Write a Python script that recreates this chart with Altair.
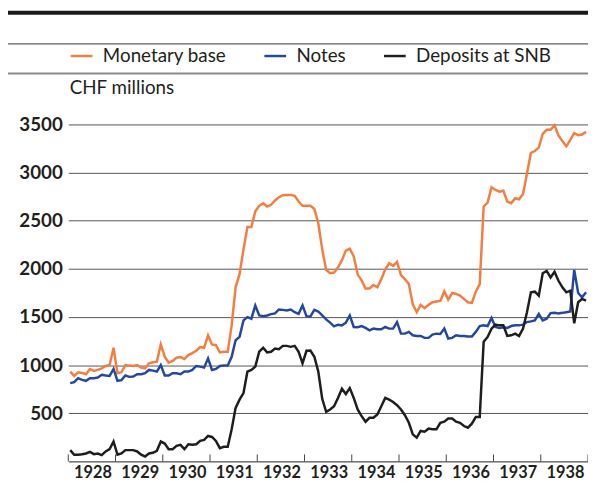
import altair as alt
import pandas as pd

series_names = ["Monetary base", "Notes", "Deposits at SNB"]
series_colors = ["#F47D40", "#2448A0", "#1E1E1E"]
years = list(range(1928, 1939))
tick_years = list(range(1928, 1940))
y_ticks = [500, 1000, 1500, 2000, 2500, 3000, 3500]

monetary_base = [
    933, 888, 926, 919, 905, 960, 940, 950, 967, 991, 1001, 1180,
    916, 926, 1001, 995, 991, 1001, 974, 967, 1019, 1029, 1036, 1214,
    1087, 1025, 1043, 1077, 1084, 1063, 1104, 1125, 1149, 1187, 1180, 1310,
    1214, 1207, 1132, 1139, 1139, 1413, 1808, 1945, 2202, 2435, 2435, 2597,
    2655, 2682, 2648, 2665, 2710, 2744, 2765, 2768, 2768, 2758, 2699, 2655,
    2655, 2655, 2621, 2476, 2200, 1990, 1955, 1962, 2013, 2090, 2190, 2209,
    2130, 1940, 1880, 1797, 1797, 1832, 1808, 1893, 1996, 2058, 2031, 2072,
    1935, 1893, 1842, 1630, 1550, 1626, 1592, 1626, 1653, 1660, 1667, 1766,
    1681, 1749, 1739, 1722, 1688, 1653, 1646, 1763, 1842, 2648, 2689, 2847,
    2819, 2802, 2812, 2699, 2682, 2734, 2723, 2778, 2991, 3204, 3224, 3259,
    3403, 3444, 3444, 3490, 3385, 3327, 3272, 3341, 3409, 3389, 3396, 3423,
]
notes = [
    813, 823, 864, 847, 837, 864, 864, 871, 899, 892, 888, 960,
    837, 844, 892, 878, 881, 905, 905, 916, 950, 943, 933, 1001,
    892, 892, 916, 916, 905, 933, 933, 950, 991, 984, 974, 1070,
    950, 960, 991, 995, 995, 1087, 1259, 1293, 1465, 1499, 1482, 1619,
    1516, 1509, 1516, 1530, 1537, 1578, 1574, 1568, 1578, 1550, 1533, 1619,
    1509, 1506, 1574, 1557, 1516, 1475, 1441, 1403, 1420, 1413, 1441, 1516,
    1396, 1393, 1406, 1386, 1362, 1379, 1372, 1372, 1396, 1379, 1379, 1447,
    1327, 1327, 1345, 1310, 1303, 1303, 1283, 1283, 1317, 1327, 1324, 1379,
    1276, 1283, 1310, 1303, 1303, 1297, 1297, 1345, 1406, 1413, 1406, 1489,
    1396, 1386, 1393, 1386, 1406, 1413, 1413, 1420, 1447, 1454, 1465, 1533,
    1465, 1482, 1540, 1543, 1537, 1543, 1550, 1557, 1989, 1749, 1705, 1756,
]
deposits = [
    117, 69, 69, 75, 82, 99, 75, 82, 65, 103, 127, 206,
    69, 82, 117, 117, 117, 103, 69, 51, 82, 89, 110, 206,
    185, 127, 127, 161, 172, 127, 178, 172, 178, 213, 223, 264,
    254, 213, 137, 151, 151, 333, 556, 641, 710, 933, 950, 984,
    1139, 1180, 1132, 1139, 1173, 1166, 1200, 1200, 1190, 1200, 1139, 1019,
    1149, 1152, 1087, 933, 650, 514, 539, 573, 659, 755, 700, 761,
    659, 539, 470, 412, 453, 453, 487, 573, 659, 641, 617, 583,
    539, 480, 401, 281, 247, 316, 309, 340, 333, 333, 401, 412,
    446, 446, 412, 401, 367, 350, 391, 460, 460, 1242, 1293, 1379,
    1420, 1413, 1413, 1303, 1310, 1327, 1303, 1379, 1550, 1756, 1763, 1722,
    1955, 1979, 1911, 1969, 1876, 1808, 1756, 1773, 1434, 1653, 1688, 1670,
]

# monthly time axis (mid-month, decimal years)
month_x = [y + (m + 0.5) / 12 for y in years for m in range(12)]

rows = []
for name, vals in zip(series_names, [monetary_base, notes, deposits]):
    for xv, v in zip(month_x, vals):
        rows.append({"series": name, "x": xv, "value": v})
df = pd.DataFrame(rows)
ticks_df = pd.DataFrame({"x": tick_years})
one = pd.DataFrame({"k": [0]})

W, H = 526, 341
FONT = "Lato"
TXT = "#231F20"

xscale = alt.Scale(domain=[1928, 1939], nice=False, zero=False)
xaxis = alt.Axis(
    values=years, format="d", labelOffset=24.5, ticks=False, grid=False,
    domain=True, domainColor="#222", domainWidth=1, labelFontWeight="bold",
    labelFontSize=16.5, labelPadding=3, labelColor=TXT, labelFlush=False,
    labelOverlap=False, labelBound=False, title=None,
)
xenc = alt.X("x:Q", scale=xscale, axis=xaxis)

yaxis = alt.Axis(
    values=y_ticks, format="d", grid=True, gridColor="#555", gridWidth=1,
    ticks=False, domain=False, labelFontWeight="bold", labelFontSize=19,
    labelPadding=6, labelColor=TXT, title="CHF millions", titleAngle=0,
    titleX=1, titleY=-37, titleAlign="left", titleBaseline="middle",
    titleFontWeight="normal", titleFontSize=19, titleColor=TXT, titleFont=FONT,
)

lines = alt.Chart(df).mark_line(strokeWidth=2.5).encode(
    x=xenc,
    y=alt.Y("value:Q", scale=alt.Scale(domain=[0, 3500], nice=False), axis=yaxis),
    color=alt.Color(
        "series:N",
        scale=alt.Scale(domain=series_names, range=series_colors),
        sort=series_names,
        legend=alt.Legend(
            title=None, orient="none", legendX=1, legendY=-82,
            direction="horizontal", columns=3, columnPadding=33,
            symbolType="stroke", symbolSize=484, symbolStrokeWidth=2.5,
            labelFontSize=19, labelFont=FONT, labelColor=TXT, labelOffset=9,
            padding=0,
        ),
    ),
    detail="series:N",
)

tick_marks = alt.Chart(ticks_df).mark_rule(color="#444", strokeWidth=1).encode(
    x=xenc, y=alt.value(H), y2=alt.value(H - 7)
)

top_bar = alt.Chart(one).mark_rule(color="#1a1a1a", strokeWidth=4).encode(
    x=alt.value(-61), x2=alt.value(W + 10), y=alt.value(-113)
)
thin_line = alt.Chart(one).mark_rule(color="#333", strokeWidth=1).encode(
    x=alt.value(-61), x2=alt.value(W + 10), y=alt.value(-81.5)
)
gray_line = alt.Chart(one).mark_rule(color="#8a8a8a", strokeWidth=2).encode(
    x=alt.value(-61), x2=alt.value(W + 10), y=alt.value(-51.5)
)

chart = alt.layer(lines, tick_marks, top_bar, thin_line, gray_line).properties(
    width=W, height=H,
    padding={"left": 61, "top": 115, "right": 0, "bottom": 17},
    autosize=alt.AutoSizeParams(type="none"),
).configure(font=FONT).configure_view(stroke=None)

chart.save("out.html", embed_options={"renderer": "svg", "actions": False})
